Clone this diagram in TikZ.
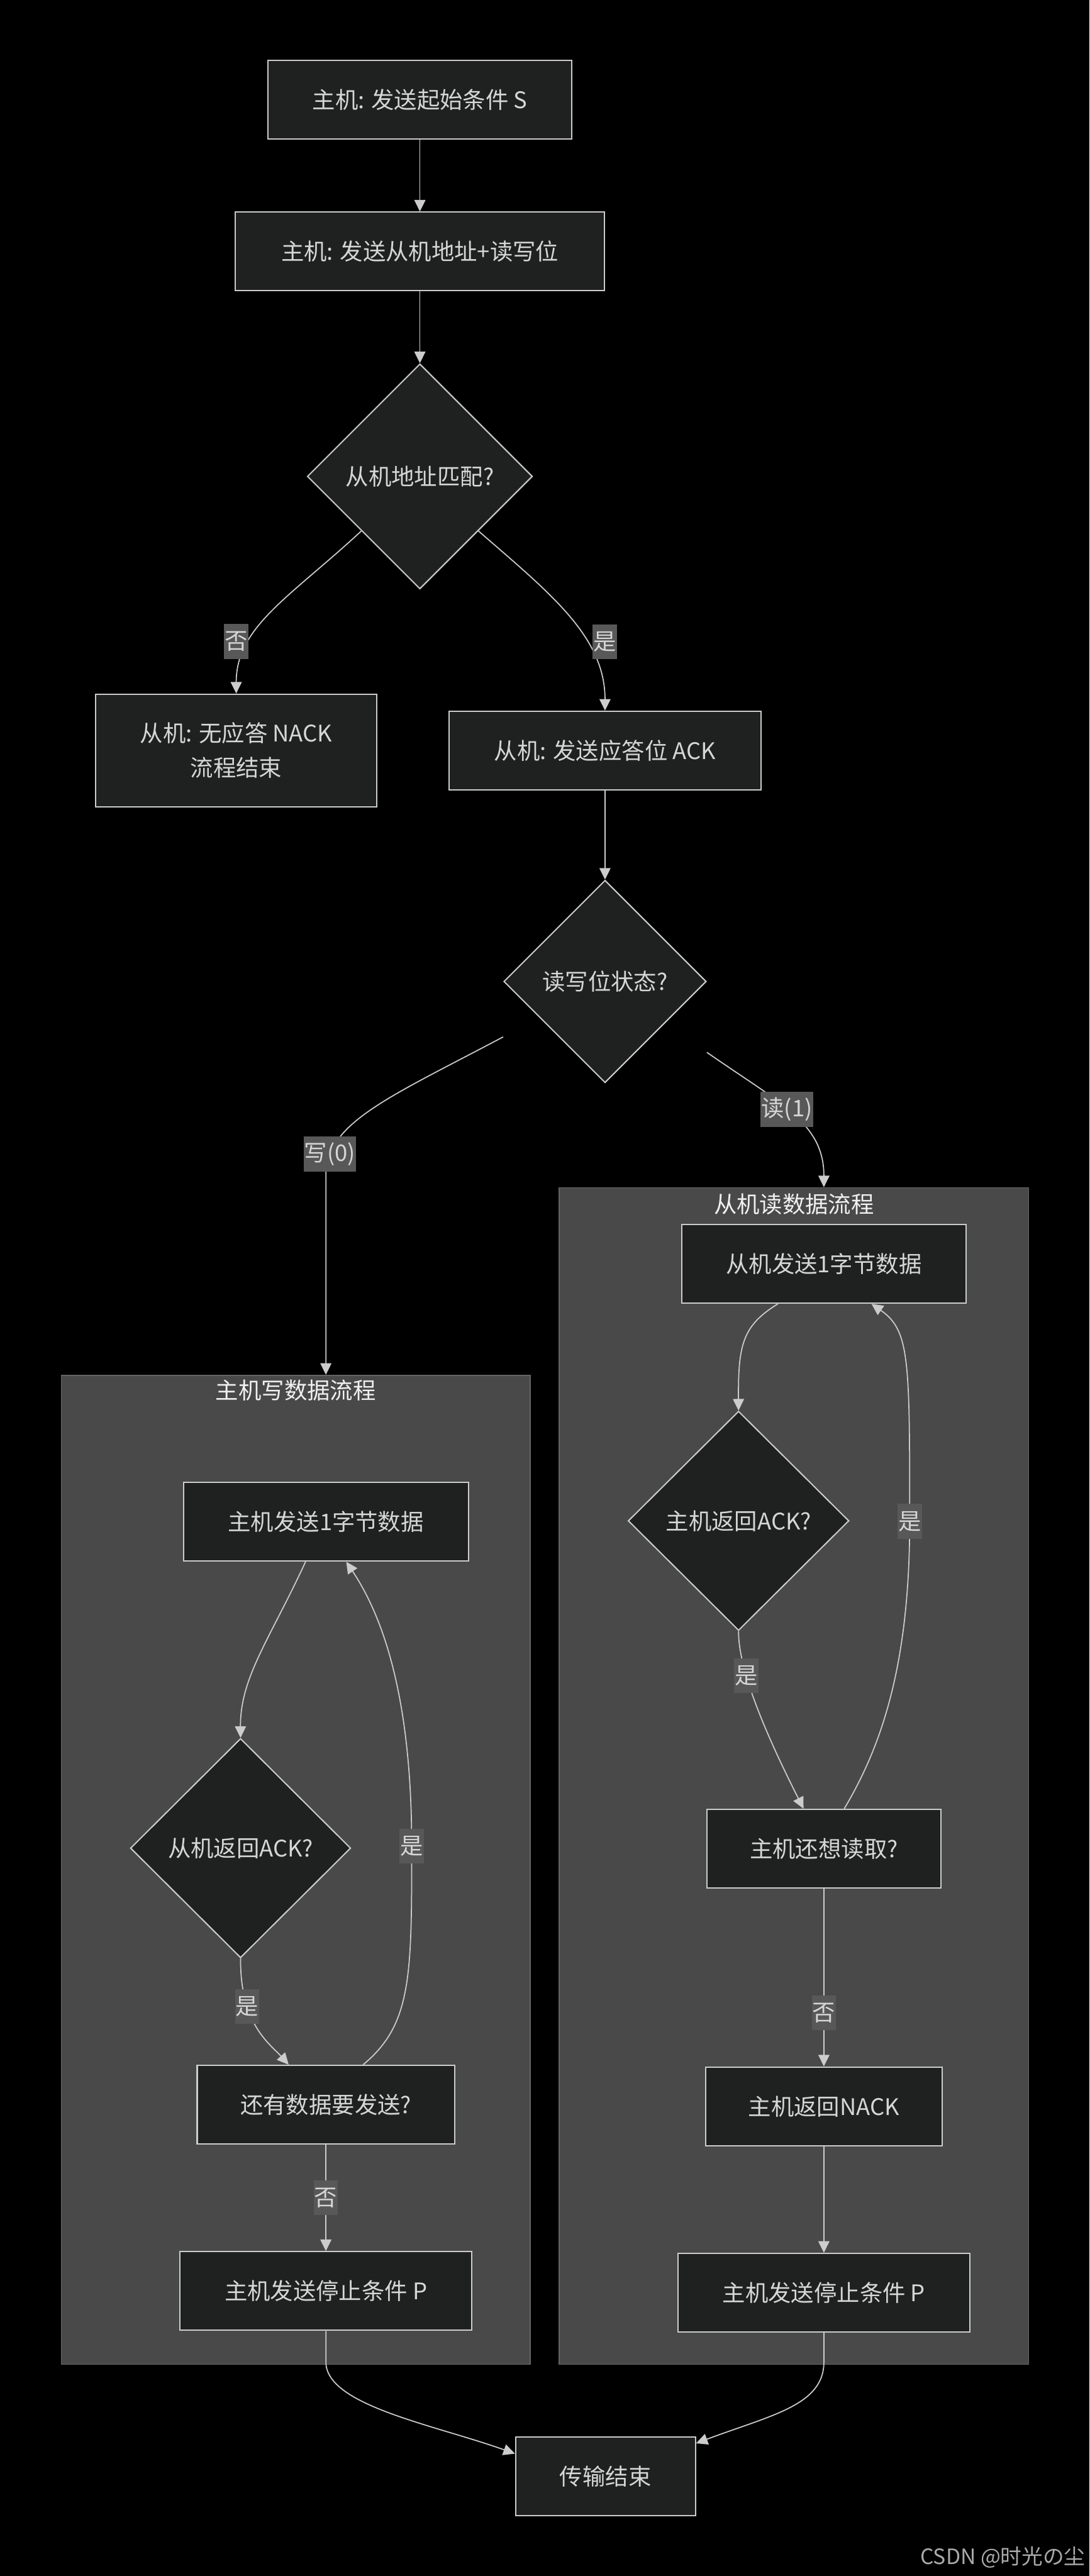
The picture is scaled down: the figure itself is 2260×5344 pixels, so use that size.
\documentclass[tikz,border=0pt]{standalone}
\usepackage{fontspec}
\setmainfont{Noto Sans CJK SC}
\usepackage{xcolor}
\usepackage{tikz}
\usetikzlibrary{positioning,arrows.meta,shapes.geometric,calc}
\definecolor{boxfill}{RGB}{31,32,32}
\definecolor{boxline}{RGB}{204,204,204}
\definecolor{txt}{RGB}{214,214,214}
\definecolor{clusfill}{RGB}{72,73,72}
\definecolor{clusline}{RGB}{100,100,100}
\definecolor{lblfill}{RGB}{88,88,88}
\definecolor{wmkgray}{RGB}{170,170,170}
\newcommand{\fsz}{\fontsize{13.5pt}{20.5pt}\selectfont}

\begin{document}
\begin{tikzpicture}[
  x=0.1mm, y=-0.1mm,
  font=\fsz,
  proc/.style={draw=boxline,fill=boxfill,text=txt,line width=0.75pt,
               minimum height=1.63cm,align=center,inner sep=2pt},
  dec/.style={draw=boxline,fill=boxfill,text=txt,line width=0.75pt,
              diamond,aspect=1,inner sep=1pt,align=center},
  clus/.style={draw=clusline,fill=clusfill,line width=0.6pt,inner sep=0pt},
  ctit/.style={text=white!94!black,inner sep=0pt},
  ar/.style={-{Triangle[length=2.4mm,width=2.3mm]},line width=0.65pt,draw=boxline},
  lbl/.style={fill=lblfill,text=txt,inner xsep=0.4pt,inner ysep=0pt,minimum height=0.72cm},
  wmk/.style={text=wmkgray,font=\fontsize{12.5pt}{15pt}\selectfont,inner sep=0pt},
]
\fill[black] (0,0) rectangle (2260,5344);
\useasboundingbox (0,0) rectangle (2260,5344);

\node[proc,minimum width=6.30cm] (start) at (871,207) {主机: 发送起始条件 S};
\node[proc,minimum width=7.66cm,below=1.49cm of start] (addr) {主机: 发送从机地址+读写位};
\node[dec,minimum width=4.67cm,minimum height=4.67cm,below=1.49cm of addr] (match) {从机地址匹配?};
\node[proc,minimum width=5.83cm,minimum height=2.34cm] (nack) at (490,1557) {从机: 无应答 NACK\\流程结束};
\node[proc,minimum width=6.48cm] (ack) at (1255,1557) {从机: 发送应答位 ACK};
\node[dec,minimum width=4.20cm,minimum height=4.20cm,below=1.85cm of ack] (rw) {读写位状态?};
\coordinate (wout) at ($(rw.west)+(0,115)$);
\coordinate (rout) at ($(rw.east)+(0,147)$);

\node[clus,minimum width=9.73cm,minimum height=20.52cm] (wclu) at (613.5,3879) {};
\node[ctit,below=0.1cm of wclu.north] (wtit) {主机写数据流程};
\node[clus,minimum width=9.74cm,minimum height=24.41cm] (rclu) at (1647,3684.5) {};
\node[ctit,below=0.12cm of rclu.north] (rtit) {从机读数据流程};
\coordinate (win) at ($(wclu.north)+(62.5,0)$);
\coordinate (rin) at ($(rclu.north)+(62,0)$);

\node[proc,minimum width=5.91cm] (wsend) at (676,3157) {主机发送1字节数据};
\node[dec,minimum width=4.57cm,minimum height=4.55cm] (wack) at (499,3834) {从机返回ACK?};
\node[proc,minimum width=5.34cm] (wmore) at (676,4366) {还有数据要发送?};
\node[proc,minimum width=6.06cm,below=2.21cm of wmore] (wstop) {主机发送停止条件 P};

\node[proc,minimum width=5.90cm] (rsend) at (1709,2622) {从机发送1字节数据};
\node[dec,minimum width=4.58cm,minimum height=4.55cm] (rack) at (1532,3155) {主机返回ACK?};
\node[proc,minimum width=4.86cm] (rmore) at (1709,3835) {主机还想读取?};
\node[proc,minimum width=4.90cm,below=3.69cm of rmore] (rnack) {主机返回NACK};
\node[proc,minimum width=6.06cm,below=2.21cm of rnack] (rstop) {主机发送停止条件 P};

\node[proc,minimum width=3.73cm] (done) at (1256,5137) {传输结束};
\node[wmk,anchor=east] (csdn) at (2252,5305) {CSDN @时光の尘};

\draw[ar] (start) -- (addr);
\draw[ar] (addr) -- (match);
\draw[ar] (match.-137) .. controls (600,1240) and (490,1300) ..
      node[lbl,pos=0.7,xshift=-2.8mm]{否} (nack.north);
\draw[ar] (match.-43) .. controls (1140,1230) and (1255,1320) ..
      node[lbl,pos=0.65,xshift=3.8mm]{是} (ack.north);
\draw[ar] (ack) -- (rw);
\draw[ar] (wout) .. controls (800,2280) and (676,2330) ..
      node[lbl,pos=0.85]{写(0)} (676,2440) -- (win);
\draw[ar] (rout) .. controls (1620,2290) and (1709,2330) ..
      node[lbl,pos=0.45]{读(1)} (rin);

\draw[ar] (wsend.-117) .. controls (560,3400) and (498,3480) .. (wack.north);
\draw[ar] (wack.south) .. controls (498,4200) and (560,4240) ..
      node[lbl,pos=0.3]{是} (wmore.133);
\draw[ar] (wmore.47) .. controls (854,4200) and (854,4100) .. (854,3830)
      node[lbl]{是} .. controls (854,3550) and (805,3370) .. (wsend.-63);
\draw[ar] (wmore) -- node[lbl]{否} (wstop);

\draw[ar] (rsend.-139) .. controls (1540,2750) and (1531,2790) .. (rack.north);
\draw[ar] (rack.south) .. controls (1531,3470) and (1600,3620) ..
      node[lbl,pos=0.3]{是} (rmore.117);
\draw[ar] (rmore.63) .. controls (1830,3620) and (1887,3450) .. (1887,3156)
      node[lbl]{是} .. controls (1887,2820) and (1887,2760) .. (rsend.-40);
\draw[ar] (rmore) -- node[lbl,pos=0.7]{否} (rnack);
\draw[ar] (rnack) -- (rstop);

\draw[ar] (wstop.south) -- (676,4900) .. controls (676,4990) and (900,5030) .. (done.166);
\draw[ar] (rstop.south) -- (1709,4900) .. controls (1709,4990) and (1600,5010) .. (done.20);
\end{tikzpicture}
\end{document}
